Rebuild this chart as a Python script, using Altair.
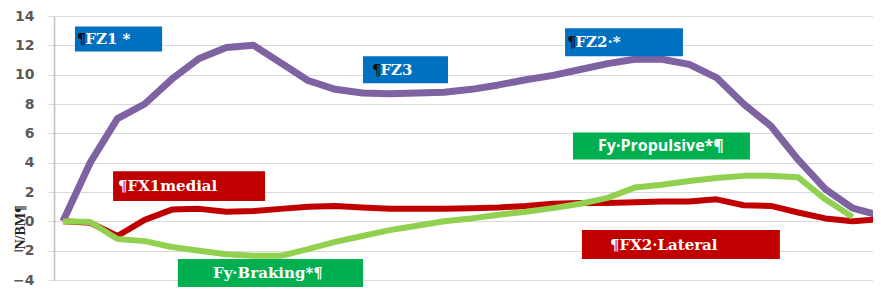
import altair as alt
import pandas as pd

# ---- data ----
idx = list(range(31))
fz = [0, 4.0, 7.0, 8.0, 9.7, 11.1, 11.85, 12.0, 10.8, 9.6, 9.0, 8.75, 8.7, 8.75, 8.8,
      9.0, 9.3, 9.65, 9.95, 10.35, 10.75, 11.05, 11.05, 10.7, 9.8, 8.0, 6.5, 4.2, 2.2, 0.9, 0.4]
fx = [0, -0.1, -1.0, 0.1, 0.8, 0.85, 0.65, 0.7, 0.85, 1.0, 1.05, 0.95, 0.85, 0.85, 0.85,
      0.9, 0.95, 1.05, 1.2, 1.25, 1.25, 1.3, 1.35, 1.35, 1.5, 1.1, 1.05, 0.6, 0.2, 0.0, 0.15]
fy = [0, -0.05, -1.2, -1.35, -1.75, -2.0, -2.25, -2.35, -2.35, -1.9, -1.4, -1.0, -0.6, -0.3, 0.0,
      0.2, 0.45, 0.65, 0.9, 1.2, 1.6, 2.3, 2.5, 2.75, 2.95, 3.1, 3.1, 3.0, 1.5, 0.3]

series_names = ["FZ", "FX", "Fy"]
series_colors = ["#7E62A1", "#C00000", "#92D050"]
series_widths = [7, 6, 6]

y_ticks = [-4, -2, 0, 2, 4, 6, 8, 10, 12, 14]
y_title = "N/BM¶"

# annotation boxes
ann_mark = ["¶", "¶", "¶", "", "", "", ""]
ann_text = ["FZ1 *", "FZ3", "FZ2·*", "Fy·Propulsive*¶", "¶FX1medial", "Fy·Braking*¶", "¶FX2·Lateral"]
ann_fill = ["#0070C0", "#0070C0", "#0070C0", "#00B050", "#C00000", "#00B050", "#C00000"]
ann_font = ["serif", "serif", "serif", "sans", "serif", "serif", "serif"]
ann_x1 = [0.44, 11.02, 18.44, 18.73, 1.84, 4.22, 19.06]
ann_x2 = [3.64, 14.14, 22.77, 25.23, 7.42, 11.02, 26.33]
ann_y1 = [13.29, 11.25, 13.16, 6.05, 3.42, -2.57, -0.59]
ann_y2 = [11.58, 9.41, 11.25, 4.21, 1.38, -4.9, -2.57]
ann_tx = [0.51, 11.35, 18.51, 19.65, 2.02, 5.51, 20.09]
ann_bx = [0.82, 11.66, 18.82, 19.65, 2.02, 5.51, 20.09]
ann_ty = [12.43, 10.33, 12.24, 5.13, 2.43, -3.5, -1.58]

# ---- tables ----
rows = []
for name, vals in zip(series_names, [fz, fx, fy]):
    for i, v in zip(idx, vals):
        rows.append({"series": name, "i": i, "v": v})
df = pd.DataFrame(rows)

ann = pd.DataFrame({
    "mark": ann_mark, "text": ann_text, "fill": ann_fill, "font": ann_font,
    "x1": ann_x1, "x2": ann_x2, "y1": ann_y1, "y2": ann_y2,
    "tx": ann_tx, "bx": ann_bx, "ty": ann_ty,
})

xscale = alt.Scale(domain=[-0.33, 29.75], nice=False, zero=False)
yscale = alt.Scale(domain=[-4, 14], nice=False)

xnone = alt.Axis(title=None, labels=False, ticks=False, domain=False, grid=False)

yaxis = alt.Axis(
    values=y_ticks, title=y_title, grid=True, gridColor="#D9D9D9", gridWidth=1,
    domainColor="#BFBFBF", domainWidth=1.5, tickColor="#D9D9D9", tickSize=6,
    labelFont="DejaVu Sans", labelFontSize=14, labelFontWeight="bold", labelColor="#595959",
    labelPadding=14,
    titleFont="Liberation Serif", titleFontSize=14, titleFontWeight="bold", titleColor="#222222",
    titleAngle=-90, titleAlign="center", titleBaseline="middle", titleX=-34, titleY=211,
)


def X(field):
    return alt.X(field, scale=xscale, axis=xnone)


def Y(field):
    return alt.Y(field, scale=yscale, axis=yaxis)


layers = []
for name, col, w in zip(series_names, series_colors, series_widths):
    layers.append(
        alt.Chart(df).transform_filter(alt.datum.series == name)
        .mark_line(color=col, strokeWidth=w, clip=True, strokeJoin="round", strokeCap="butt")
        .encode(x=X("i:Q"), y=Y("v:Q"))
    )

boxes = alt.Chart(ann).mark_rect(clip=False).encode(
    x=X("x1:Q"), x2="x2:Q",
    y=Y("y1:Q"), y2="y2:Q",
    color=alt.Color("fill:N", scale=None),
)

marks = alt.Chart(ann).transform_filter(alt.datum.mark != "").mark_text(
    align="left", baseline="middle", font="DejaVu Serif", fontWeight="bold", fontSize=15,
    color="#111111",
).encode(x=X("tx:Q"), y=Y("ty:Q"), text="mark:N")

serif_text = alt.Chart(ann).transform_filter(alt.datum.font == "serif").mark_text(
    align="left", baseline="middle", font="DejaVu Serif", fontWeight="bold", fontSize=15,
    color="white",
).encode(x=X("bx:Q"), y=Y("ty:Q"), text="text:N")

sans_text = alt.Chart(ann).transform_filter(alt.datum.font == "sans").mark_text(
    align="left", baseline="middle", font="Open Sans", fontWeight="bold", fontSize=16,
    color="white",
).encode(x=X("bx:Q"), y=Y("ty:Q"), text="text:N")

chart = alt.layer(*layers, boxes, marks, serif_text, sans_text).properties(
    width=819, height=264,
    autosize=alt.AutoSizeParams(type="none"),
    padding={"left": 46, "top": 8, "right": 0, "bottom": 7},
    background="white",
).configure_view(stroke=None)

chart.save("out.html", embed_options={"renderer": "svg", "actions": False})
